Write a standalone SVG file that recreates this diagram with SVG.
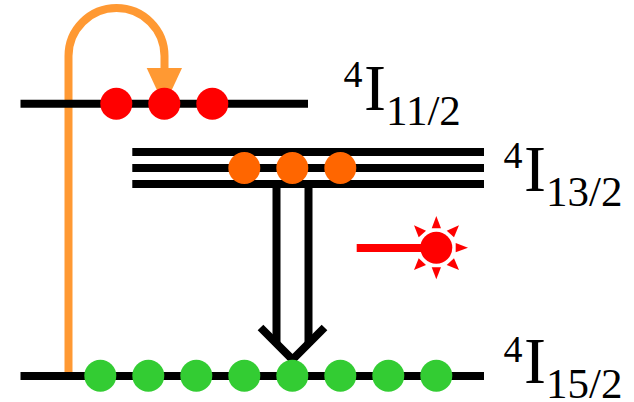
<svg xmlns="http://www.w3.org/2000/svg" width="634" height="402" viewBox="0 0 634 402">
<style>
.lv{stroke:#000;stroke-width:8;fill:none}
.r{fill:#f00}.o{fill:#f60}.g{fill:#3c3}
text{font-family:"Liberation Serif","Times New Roman",serif;fill:#000}
.m{font-size:66px}.p{font-size:38px}.s{font-size:43px}
</style>
<rect width="634" height="402" fill="#fff"/>
<g id="connectors">
<path d="M68.500 376V56A48 48 0 0 1 164.500 56V70" fill="none" stroke="#f93" stroke-width="8"/>
<polygon points="146.700,68 182,68 164.300,106" fill="#f93"/>
<path d="M276.500 186V345M308.500 186V345" class="lv"/>
<path d="M260.500 327.500L292.500 359.500L324.500 327.500" class="lv"/>
<path d="M356.700 248H436" stroke="#f00" stroke-width="8" fill="none"/>
</g>
<g id="level-4I11-2">
<path d="M20.500 103.700H308" class="lv"/>
<circle class="r" cx="116.300" cy="103.700" r="16"/><circle class="r" cx="164.300" cy="103.700" r="16"/><circle class="r" cx="212.300" cy="103.700" r="16"/>
<text><tspan x="343.500" y="87" class="p">4</tspan><tspan x="364" y="110" class="m">I</tspan><tspan x="386" y="125" class="s">11/2</tspan></text>
</g>
<g id="level-4I13-2">
<path d="M132.300 152H484M132.300 168H484M132.300 184H484" class="lv"/>
<circle class="o" cx="244.300" cy="168" r="16"/><circle class="o" cx="292.300" cy="168" r="16"/><circle class="o" cx="340.300" cy="168" r="16"/>
<text><tspan x="503.500" y="168" class="p">4</tspan><tspan x="524" y="191" class="m">I</tspan><tspan x="546" y="206" class="s">13/2</tspan></text>
</g>
<g id="level-4I15-2">
<path d="M20.500 376H484" class="lv"/>
<circle class="g" cx="100.300" cy="375.700" r="16"/><circle class="g" cx="148.300" cy="375.700" r="16"/><circle class="g" cx="196.300" cy="375.700" r="16"/><circle class="g" cx="244.300" cy="375.700" r="16"/><circle class="g" cx="292.300" cy="375.700" r="16"/><circle class="g" cx="340.300" cy="375.700" r="16"/><circle class="g" cx="388.300" cy="375.700" r="16"/><circle class="g" cx="436.300" cy="375.700" r="16"/>
<text><tspan x="503.500" y="362" class="p">4</tspan><tspan x="524" y="383" class="m">I</tspan><tspan x="546" y="398" class="s">15/2</tspan></text>
</g>
<g id="sun" fill="#f00">
<circle cx="436.300" cy="247.700" r="16"/>
<polygon points="431.700,228.300 441,228.300 436.300,216"/>
<polygon points="431.700,267.300 441,267.300 436.300,279.300"/>
<polygon points="455.700,243 455.700,252.300 468,247.700"/>
<polygon points="414,225.300 426,230.700 418.700,237.300"/>
<polygon points="459,225.300 446.700,230.700 454,237.300"/>
<polygon points="414,270 418.700,258.300 426,265"/>
<polygon points="459,270 454,258.300 446.700,265"/>
</g>
</svg>
